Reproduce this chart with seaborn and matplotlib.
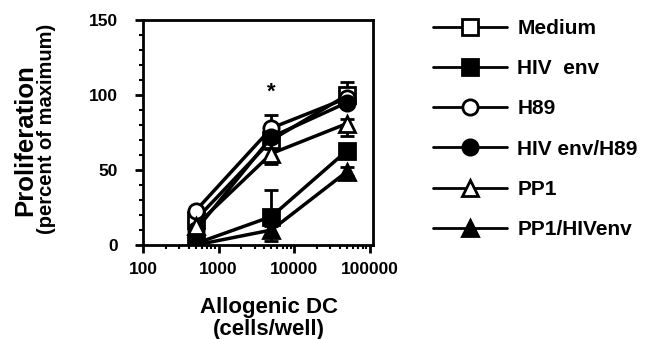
import matplotlib
matplotlib.use("Agg")
import matplotlib.pyplot as plt
import seaborn as sns
import pandas as pd
import numpy as np
from matplotlib.lines import Line2D
from matplotlib.ticker import FixedLocator, LogLocator, NullFormatter, FixedFormatter

# ---- data ----
cells = [500, 5000, 50000]
series_names = ["Medium", "HIV  env", "H89", "HIV env/H89", "PP1", "PP1/HIVenv"]
medium = [17, 70, 100]
hiv_env = [1, 19, 63]
h89 = [23, 78, 98]
hiv_env_h89 = [10, 72, 95]
pp1 = [13, 61, 81]
pp1_hivenv = [0, 10, 49]
# error bars (lower, upper)
medium_err = [[3, 4, 3], [3, 4, 9]]
hiv_env_err = [[1, 0, 3], [1, 18, 3]]
h89_err = [[2, 3, 2], [2, 9, 3]]
hiv_env_h89_err = [[2, 3, 2], [2, 3, 2]]
pp1_err = [[2, 7, 8], [2, 3, 3]]
pp1_hivenv_err = [[0, 7, 3], [1, 3, 3]]
asterisk_x, asterisk_y = 5000, 102
x_ticks = [100, 1000, 10000, 100000]
x_ticklabels = ["100", "1000", "10000", "100000"]
y_ticks = [0, 50, 100, 150]

values = [medium, hiv_env, h89, hiv_env_h89, pp1, pp1_hivenv]
errors = [medium_err, hiv_env_err, h89_err, hiv_env_h89_err, pp1_err, pp1_hivenv_err]
markers = ["s", "s", "o", "o", "^", "^"]
faces = ["white", "black", "white", "black", "white", "black"]

rows = []
for name, vals in zip(series_names, values):
    for c, v in zip(cells, vals):
        rows.append({"cells": c, "value": v, "series": name})
df = pd.DataFrame(rows)

sns.set_theme(style="ticks")
plt.rcParams["font.family"] = ["Liberation Sans", "DejaVu Sans"]
plt.rcParams["font.weight"] = "bold"
plt.rcParams["text.color"] = "black"
plt.rcParams["axes.labelcolor"] = "black"
plt.rcParams["xtick.color"] = "black"
plt.rcParams["ytick.color"] = "black"

fig = plt.figure(figsize=(6.57, 3.39), dpi=100)
ax = fig.add_axes([143 / 657, 1 - 245 / 339, 230 / 657, 225 / 339])

handles = []
for name, vals, err, m, fc in zip(series_names, values, errors, markers, faces):
    sub = df[df["series"] == name]
    ax.errorbar(sub["cells"], sub["value"], yerr=err, fmt="none", ecolor="black",
                elinewidth=2, capsize=5, capthick=2, zorder=2)
    sns.lineplot(data=sub, x="cells", y="value", ax=ax, color="black", lw=2.5,
                 marker=m, markersize=11, markerfacecolor=fc, markeredgecolor="black",
                 markeredgewidth=2, zorder=3, legend=False)
    handles.append(Line2D([0], [0], color="black", lw=2, marker=m, markersize=11,
                          markerfacecolor=fc, markeredgecolor="black", markeredgewidth=2,
                          label=name))

ax.text(asterisk_x, asterisk_y, "*", ha="center", va="center", fontsize=16, fontweight="bold")

ax.set_xscale("log")
ax.set_xlim(100, 110000)
ax.set_ylim(0, 150)
ax.xaxis.set_major_locator(FixedLocator(x_ticks))
ax.xaxis.set_major_formatter(FixedFormatter(x_ticklabels))
ax.xaxis.set_minor_locator(LogLocator(base=10, subs=np.arange(2, 10)))
ax.xaxis.set_minor_formatter(NullFormatter())
ax.yaxis.set_major_locator(FixedLocator(y_ticks))
ax.yaxis.set_minor_locator(FixedLocator(np.arange(0, 151, 10)))
for s in ax.spines.values():
    s.set_visible(True)
    s.set_linewidth(2)
    s.set_color("black")
ax.tick_params(which="major", direction="out", length=6, width=2, labelsize=12.5, colors="black")
ax.tick_params(which="minor", direction="out", length=3, width=1.5, colors="black")
ax.tick_params(axis="x", which="major", pad=6)
ax.tick_params(axis="y", which="major", pad=12)
for lbl in ax.get_xticklabels() + ax.get_yticklabels():
    lbl.set_fontweight("bold")

ax.set_xlabel("")
ax.set_ylabel("")
# axis titles
fig.text(269 / 657, 1 - 308 / 339, "Allogenic DC", ha="center", va="center",
         fontsize=16, fontweight="bold")
fig.text(269 / 657, 1 - 329 / 339, "(cells/well)", ha="center", va="center",
         fontsize=16, fontweight="bold")
fig.text(25 / 657, 1 - 140 / 339, "Proliferation", ha="center", va="center",
         rotation=90, fontsize=18.5, fontweight="bold")
fig.text(47 / 657, 1 - 129 / 339, "(percent of maximum)", ha="center", va="center",
         rotation=90, fontsize=14.5, fontweight="bold")

fig.legend(handles=handles, loc="upper left", bbox_to_anchor=(433 / 657, 1 - 19 / 339),
           frameon=False, prop={"size": 15, "weight": "bold"}, handlelength=3.55,
           handletextpad=0.5, labelspacing=1.02, borderpad=0, borderaxespad=0)

fig.savefig("out.png", dpi=100, facecolor="white")
